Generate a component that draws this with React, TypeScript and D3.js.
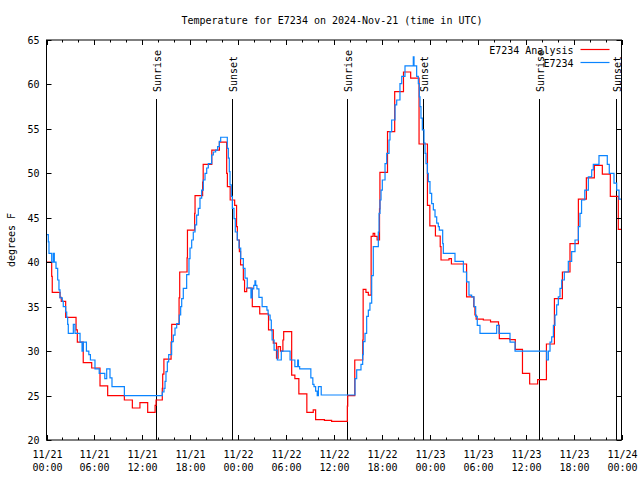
import React from "react";
import * as d3 from "d3";

// ---- data (hours since 2024-11-21 00:00 UTC, degrees F) ----
const redHours = [0,0.65,0.72,1.7,1.85,2.4,3.7,3.86,4.6,5.66,6.7,7.66,9.75,10.75,11.7,12.67,13.6,13.72,14.5,14.55,14.7,15.6,15.68,16.6,16.68,17.6,17.65,18.55,18.6,19.55,19.62,20.7,21.65,22.56,22.65,23.0,23.56,23.8,23.9,24.15,24.3,24.65,24.8,25.07,25.77,26.7,27.8,28.4,28.8,29.0,29.3,29.6,29.7,30.7,31.1,31.6,32.6,33.4,33.7,34.8,35.7,37.67,37.72,38.6,39.6,39.65,40.0,40.3,40.65,40.9,41.1,41.4,41.7,41.75,42.7,43.6,44.7,45.6,46.65,47.7,48.0,48.7,49.3,49.4,50.4,50.7,52.6,53.5,53.65,53.8,54.7,55.6,56.6,56.7,58.0,58.7,59.6,60.5,61.5,62.6,63.6,64.6,65.55,66.6,67.6,68.6,69.6,70.6,71.6,72];
const redTemps = [40.0,38.4,36.6,36.05,35.6,33.8,32.4,31.0,28.7,28.1,26.1,25.0,24.5,23.6,24.2,23.1,23.9,24.5,25.8,27.4,29.1,31.0,33.0,36.0,38.9,40.5,43.6,45.5,47.5,49.0,51.0,52.6,53.5,50.0,48.5,47.0,46.4,44.0,42.5,41.2,39.7,38.0,36.7,37.1,35.0,34.2,32.4,30.9,29.2,30.5,30.0,31.25,32.2,27.3,26.9,25.2,23.1,23.4,22.3,22.2,22.1,23.8,25.0,29.0,31.25,36.95,36.6,36.3,42.9,43.25,42.9,42.5,46.0,50.1,54.7,59.2,61.4,60.7,53.3,46.4,44.1,42.95,41.75,40.25,40.4,39.8,36.1,35.0,34.06,33.6,33.5,33.3,32.9,31.4,31.3,30.2,27.5,26.3,26.8,30.8,35.9,38.9,42.1,47.1,49.5,50.9,49.9,47.4,43.7,43.7];

const blueHours = [0,0.23,0.31,0.65,0.85,0.98,1.19,1.4,1.56,1.69,1.98,2.1,2.4,2.53,2.65,2.73,3.36,3.57,4.2,4.45,4.6,5.0,5.3,5.5,6.07,6.6,7.3,7.54,7.95,8.2,9.75,14.5,14.71,14.84,14.96,15.13,15.3,15.67,15.88,16.09,16.3,16.63,16.8,16.93,17.13,17.55,17.84,17.97,18.18,18.38,18.6,18.8,19.01,19.22,19.43,19.64,19.85,20.06,20.26,20.68,20.89,21.18,21.43,21.64,21.81,22.64,22.77,22.89,22.98,23.14,23.27,23.48,23.64,23.89,24.1,24.32,24.65,24.86,25.14,25.6,25.75,25.95,26.1,26.2,26.35,26.6,27.0,27.6,27.75,28.0,28.15,28.25,28.5,28.9,29.4,30.5,31.1,31.45,31.55,31.7,33.1,33.35,33.5,33.7,33.9,34.05,34.4,38.63,38.84,39.38,39.59,39.67,39.88,40.09,40.3,40.5,40.72,40.92,41.55,41.64,41.76,41.89,42.05,42.39,42.6,42.89,43.01,43.22,43.64,43.85,44.26,44.48,44.89,45.93,46.02,46.35,46.56,46.68,46.77,46.89,47.06,47.27,47.4,47.52,47.69,47.81,48.02,48.23,48.44,48.65,48.86,49.06,49.19,49.61,49.69,51.15,52.2,52.6,52.9,53.24,53.53,53.74,53.94,54.28,56.37,56.66,58.04,58.67,62.63,62.84,63.05,63.26,63.47,63.67,63.88,64.09,64.3,64.51,64.84,65.34,65.76,66.18,66.6,66.8,67.0,67.4,67.85,68.27,68.47,69.18,70.22,70.47,71.06,71.4,71.69,72];
const blueTemps = [43.1,42.3,41.0,40.0,41.0,40.0,39.3,38.0,36.9,36.0,35.6,35.0,34.4,33.8,33.0,32.0,33.0,32.0,31.0,30.0,31.0,30.0,29.6,29.0,28.0,27.5,26.9,28.0,27.0,26.0,25.0,25.4,25.8,26.6,27.7,28.8,29.6,31.06,31.8,32.6,33.1,34.06,35.0,35.9,37.06,38.6,40.4,41.6,42.5,43.4,44.2,45.3,46.06,47.2,48.1,49.25,50.0,50.6,51.1,52.06,52.4,52.6,53.0,53.6,54.06,52.8,51.7,50.2,48.7,47.4,46.06,44.9,43.4,42.5,41.6,40.4,39.3,38.2,37.1,36.0,37.0,37.4,37.9,37.4,37.0,36.05,35.0,34.6,34.06,33.5,32.3,31.25,30.1,29.0,30.0,29.0,28.25,29.0,28.25,28.0,27.0,26.25,26.0,25.5,25.0,26.0,25.06,26.9,27.9,28.5,29.6,31.06,32.0,33.9,34.6,35.4,38.5,41.75,43.4,45.5,47.0,48.1,49.25,51.1,52.25,53.75,54.7,56.0,57.7,58.25,60.1,60.9,62.1,63.1,62.1,60.9,60.1,58.6,57.5,56.2,54.9,53.4,52.25,51.1,50.0,49.06,47.75,46.6,45.9,45.1,44.4,44.0,43.6,42.1,41.0,40.1,38.9,37.8,36.3,36.1,35.0,33.9,32.9,32.0,32.9,32.0,31.0,30.0,29.0,30.0,31.0,31.6,32.9,34.06,35.2,36.1,37.05,38.0,38.9,40.1,41.2,42.5,44.0,45.5,47.0,48.1,49.6,50.4,51.0,52.0,51.0,50.0,48.9,48.1,47.1,47.1];

const sunHours = [13.75, 23.27, 37.67, 47.18, 61.71, 71.25];
const sunLabels = ["Sunrise", "Sunset", "Sunrise", "Sunset", "Sunrise", "Sunset"];
const yTicks = [20, 25, 30, 35, 40, 45, 50, 55, 60, 65];
const seriesNames = ["E7234 Analysis", "E7234"];
const seriesColors = ["#ff0000", "#0a84ff"];
const title = "Temperature for E7234 on 2024-Nov-21 (time in UTC)";
const yLabel = "degrees F";

const start = Date.UTC(2024, 10, 21, 0, 0, 0);
const toDate = (h: number) => new Date(start + h * 3600e3);

const W = 640, H = 480;
const L = 46.5, R = 621.5, T = 40, B = 440;
const FONT = "'DejaVu Sans Mono', 'Liberation Mono', monospace";
const FS = 10;

export default function App() {
  const x = d3.scaleUtc().domain([toDate(0), toDate(72)]).range([L, R]);
  const y = d3.scaleLinear().domain([20, 65]).range([B, T]);

  const majors = x.ticks(d3.utcHour.every(6) as any);
  const minors = x.ticks(d3.utcHour.every(2) as any).filter(
    (d) => !majors.some((m) => +m === +d)
  );
  const fmtDay = d3.utcFormat("%m/%d");
  const fmtTime = d3.utcFormat("%H:%M");

  const line = d3
    .line<[number, number]>()
    .x((d) => x(toDate(d[0])))
    .y((d) => y(d[1]))
    .curve(d3.curveStepAfter);

  const red = redHours.map((h, i) => [h, redTemps[i]] as [number, number]);
  const blue = blueHours.map((h, i) => [h, blueTemps[i]] as [number, number]);

  const txt = { fontFamily: FONT, fontSize: FS, fill: "#000" } as const;

  return (
    <svg
      width={W}
      height={H}
      style={{ position: "absolute", left: 0, top: 0, background: "#fff" }}
    >
      <rect x={0} y={0} width={W} height={H} fill="#fff" />
      <text x={332} y={23.5} textAnchor="middle" {...txt}>
        {title}
      </text>
      <text
        transform={`translate(14.5,${(T + B) / 2}) rotate(-90)`}
        textAnchor="middle"
        {...txt}
      >
        {yLabel}
      </text>

      {/* sunrise / sunset */}
      {sunHours.map((h, i) => {
        const sx = Math.round(x(toDate(h))) + 0.5;
        return (
          <g key={"s" + i}>
            <line x1={sx} x2={sx} y1={99} y2={B} stroke="#000" strokeWidth={1} />
            <text
              transform={`translate(${sx + 4},92) rotate(-90)`}
              textAnchor="start"
              {...txt}
            >
              {sunLabels[i]}
            </text>
          </g>
        );
      })}

      {/* data */}
      <path d={line(red) || ""} fill="none" stroke={seriesColors[0]} strokeWidth={1.2} />
      <path d={line(blue) || ""} fill="none" stroke={seriesColors[1]} strokeWidth={1.2} />

      {/* y ticks */}
      {yTicks.map((v) => {
        const ty = Math.round(y(v)) + 0.5;
        return (
          <g key={"y" + v}>
            <line x1={L} x2={L + 5} y1={ty} y2={ty} stroke="#000" />
            <line x1={R - 5} x2={R} y1={ty} y2={ty} stroke="#000" />
            <text x={39.5} y={ty + 3.5} textAnchor="end" {...txt}>
              {v}
            </text>
          </g>
        );
      })}

      {/* x ticks */}
      {majors.map((d, i) => {
        const tx = Math.round(x(d)) + 0.5;
        return (
          <g key={"xm" + i}>
            <line x1={tx} x2={tx} y1={B} y2={B - 5} stroke="#000" />
            <line x1={tx} x2={tx} y1={T} y2={T + 5} stroke="#000" />
            <text x={tx} y={458} textAnchor="middle" {...txt}>
              {fmtDay(d)}
            </text>
            <text x={tx} y={471} textAnchor="middle" {...txt}>
              {fmtTime(d)}
            </text>
          </g>
        );
      })}
      {minors.map((d, i) => {
        const tx = Math.round(x(d)) + 0.5;
        return (
          <g key={"xn" + i}>
            <line x1={tx} x2={tx} y1={B} y2={B - 2.5} stroke="#000" />
            <line x1={tx} x2={tx} y1={T} y2={T + 2.5} stroke="#000" />
          </g>
        );
      })}

      {/* border */}
      <rect
        x={L}
        y={T}
        width={R - L}
        height={B - T}
        fill="none"
        stroke="#000"
        strokeWidth={1}
      />

      {/* legend */}
      {seriesNames.map((n, i) => {
        const ly = 49.5 + i * 13;
        return (
          <g key={"l" + i}>
            <text x={573.5} y={ly + 4} textAnchor="end" {...txt}>
              {n}
            </text>
            <line x1={580.5} x2={609.5} y1={ly} y2={ly} stroke={seriesColors[i]} strokeWidth={1.2} />
          </g>
        );
      })}
    </svg>
  );
}
